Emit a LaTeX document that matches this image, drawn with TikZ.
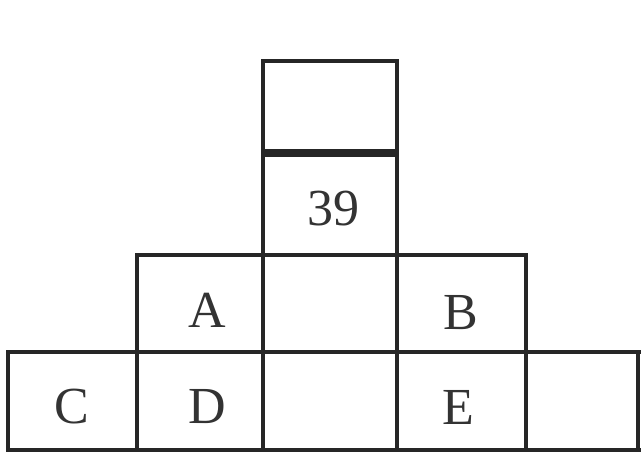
\documentclass[tikz,border=0pt]{standalone}
\usepackage{fontspec}
\setmainfont{Liberation Serif}
\begin{document}
\begin{tikzpicture}[x=1pt,y=-1pt,
  cellbox/.style={draw=black!85,line width=3.5pt,minimum width=0pt},
  lab/.style={font=\fontsize{52}{52}\selectfont,text=black!80,inner sep=0pt}]
\useasboundingbox (0,0) rectangle (641,454);
% cells
\draw[cellbox] (263,61) rectangle (397,151);
\draw[cellbox] (263,155) rectangle (397,255);
\draw[cellbox] (137,255) rectangle (263,352);
\draw[cellbox] (263,255) rectangle (397,352);
\draw[cellbox] (397,255) rectangle (526,352);
\draw[cellbox] (8,352) rectangle (137,450);
\draw[cellbox] (137,352) rectangle (263,450);
\draw[cellbox] (263,352) rectangle (397,450);
\draw[cellbox] (397,352) rectangle (526,450);
\draw[cellbox] (526,352) -- (641,352);
\draw[cellbox] (526,450) -- (641,450);
\draw[cellbox] (638,352) -- (638,450);
% labels
\node[lab] (n39) at (333,209) {39};
\node[lab] (nA) at (207,310) {A};
\node[lab] (nB) at (461,313) {B};
\node[lab] (nC) at (72,407) {C};
\node[lab] (nD) at (207,407) {D};
\node[lab] (nE) at (458,407) {E};
\end{tikzpicture}
\end{document}
